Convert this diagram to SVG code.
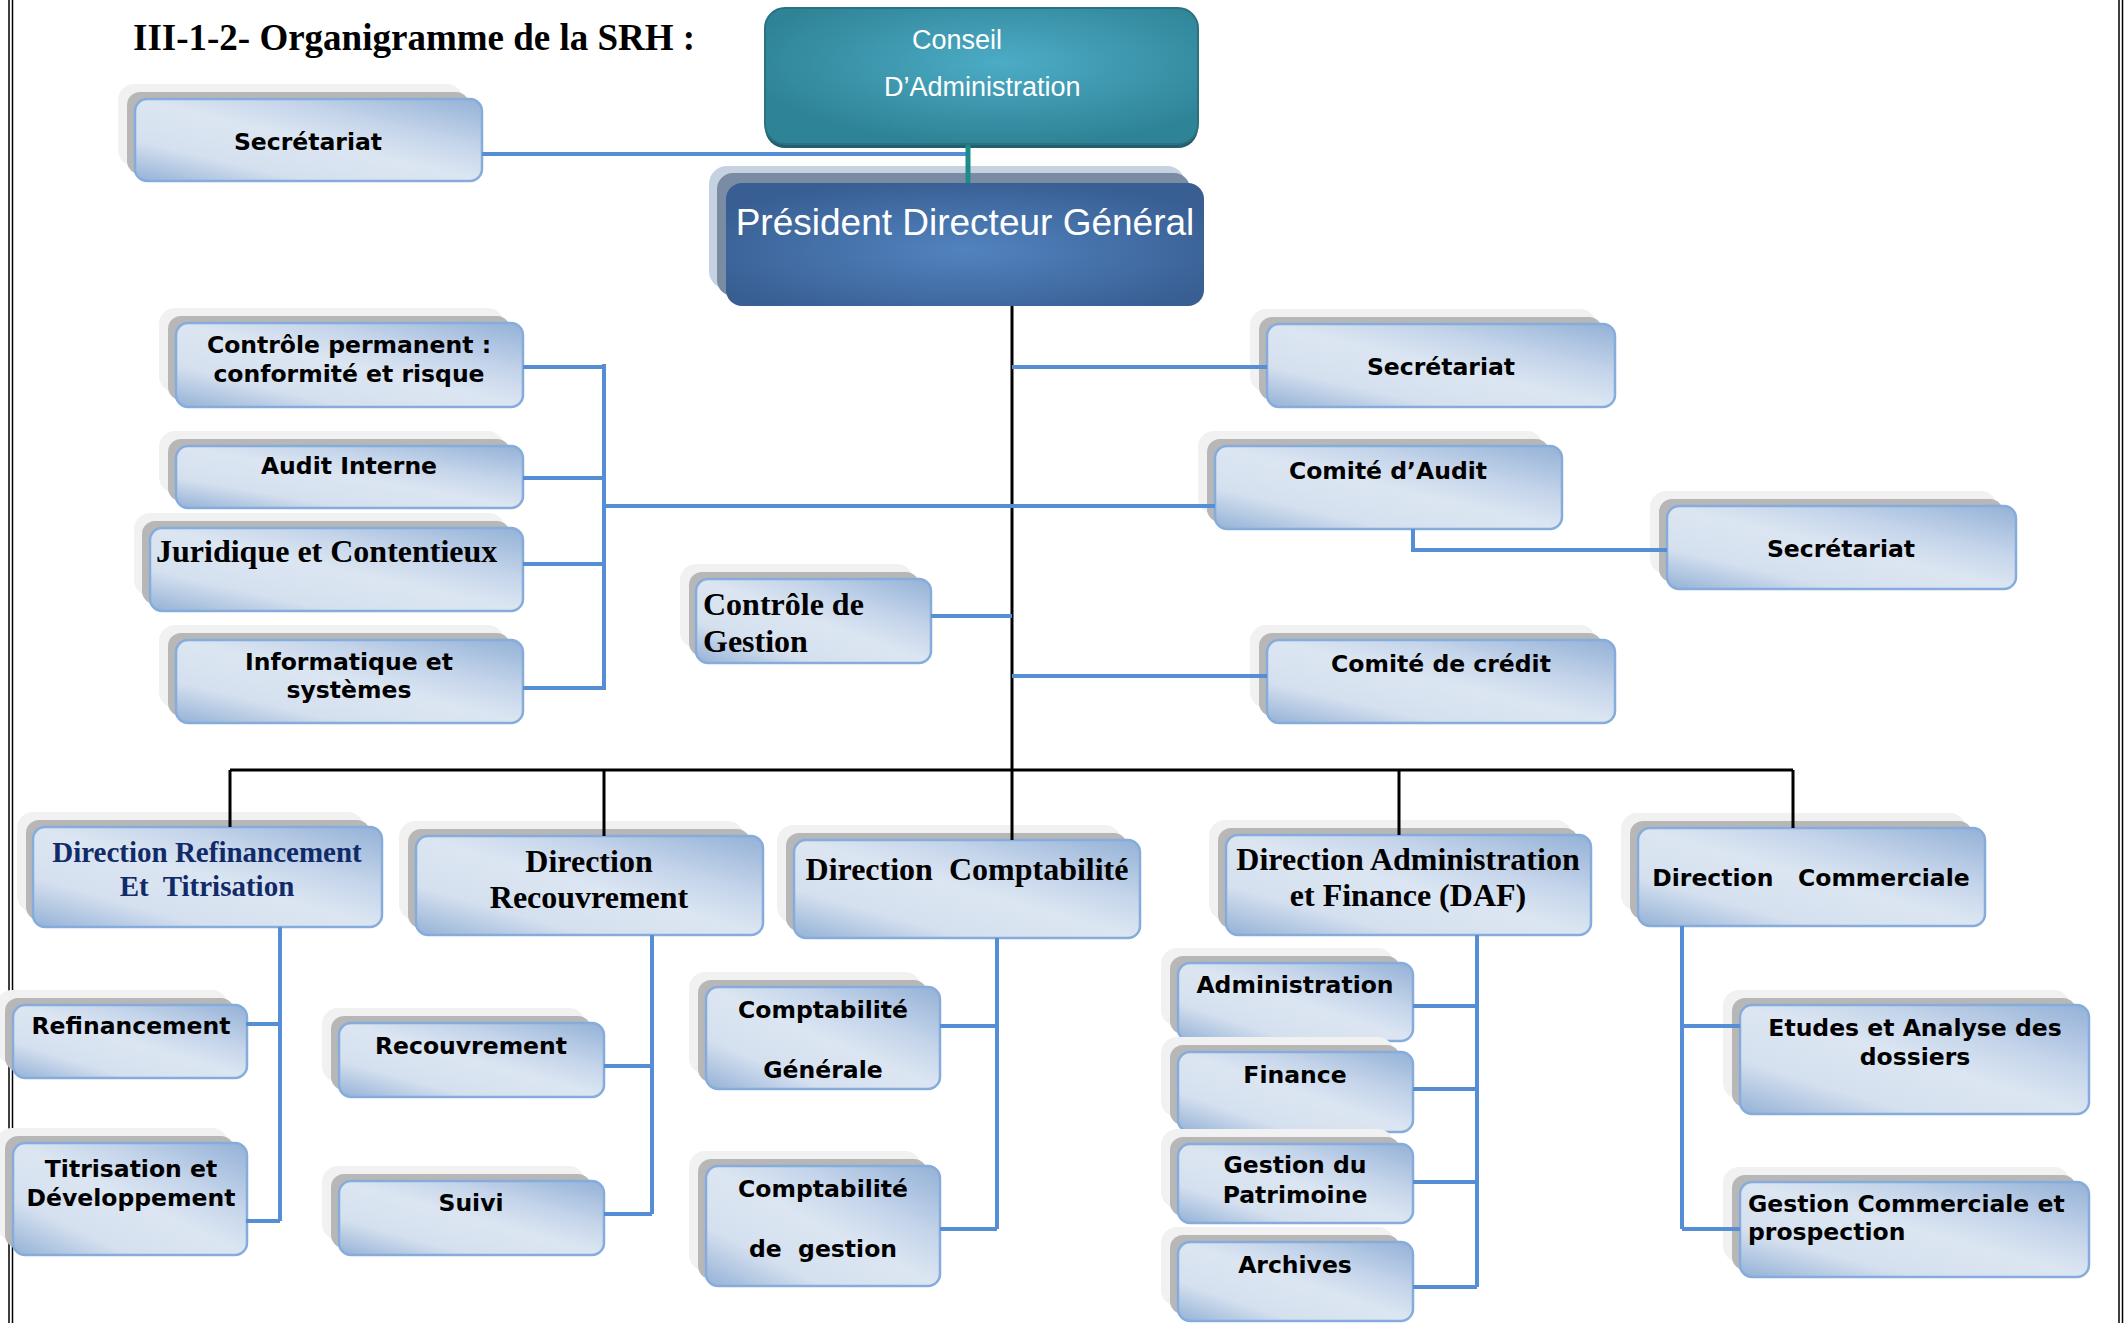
<svg xmlns="http://www.w3.org/2000/svg" width="2127" height="1323" viewBox="0 0 2127 1323">
<defs>
<linearGradient id="g" x1="1" y1="0" x2="0" y2="1">
<stop offset="0" stop-color="#93b1d6"/>
<stop offset="0.3" stop-color="#c4d4ea"/>
<stop offset="0.5" stop-color="#dce6f2"/>
<stop offset="0.75" stop-color="#d5e0ef"/>
<stop offset="1" stop-color="#93b1d6"/>
</linearGradient>
<radialGradient id="gp" cx="0.5" cy="0.55" r="0.6">
<stop offset="0" stop-color="#5283bf"/>
<stop offset="1" stop-color="#385e92"/>
</radialGradient>
<radialGradient id="gc" cx="0.55" cy="0.4" r="0.6">
<stop offset="0" stop-color="#4cacc6"/>
<stop offset="1" stop-color="#2f8396"/>
</radialGradient>
<style>
.l2{fill:#f1f1f1}
.l1{fill:#b7b7b7}
.bx{fill:url(#g);stroke:#86acdc;stroke-width:2.5}
.t{font-family:"DejaVu Sans",Verdana,sans-serif;font-weight:bold;font-size:23.5px;fill:#000;text-anchor:middle}
.ts{font-family:"Liberation Serif","Times New Roman",serif;font-weight:bold;font-size:32px;fill:#000;text-anchor:middle}
.st{text-anchor:start}
.nv{fill:#112b68;font-size:29px}
.tw{font-family:"Liberation Sans",Arial,sans-serif;fill:#fff}
.bl{stroke:#558ed5;stroke-width:4;fill:none}
.bk{stroke:#000;stroke-width:3;fill:none}
.fr{stroke:#000;stroke-width:1.5;fill:none}
</style>
</defs>
<rect width="2127" height="1323" fill="#fff"/>
<g id="frame">
<path class="fr" d="M9,0V1323M12.5,0V1323M2119,0V1323M2122.5,0V1323"/>
</g>
<text id="title" x="133" y="50" font-family="Liberation Serif,Times New Roman,serif" font-weight="bold" font-size="37" fill="#000">III-1-2- Organigramme de la SRH :</text>

<g id="sec1"><rect class="l2" x="118" y="84" width="345" height="82" rx="16"/><rect class="l1" x="127" y="92" width="342" height="82" rx="13"/><rect class="bx" x="135" y="99" width="347" height="82" rx="12"/><text class="t" x="308" y="150">Secrétariat</text></g>

<g id="conseil"><rect x="765" y="11" width="433" height="137" rx="20" fill="#22606e"/><rect x="765" y="8" width="433" height="136" rx="20" fill="url(#gc)" stroke="#2b7281" stroke-width="2"/><text class="tw" x="912" y="49" font-size="27">Conseil</text><text class="tw" x="884" y="96" font-size="27">D’Administration</text></g>

<g id="pdg"><rect x="709" y="166" width="476" height="123" rx="18" fill="#c6d2e1"/><rect x="717" y="173" width="473" height="123" rx="16" fill="#7a8ba4"/><rect x="726" y="183" width="478" height="123" rx="16" fill="url(#gp)"/><text class="tw" x="965" y="235" font-size="37" text-anchor="middle">Président Directeur Général</text></g>

<g id="ctrlperm"><rect class="l2" x="159" y="308" width="345" height="84" rx="16"/><rect class="l1" x="168" y="316" width="342" height="84" rx="13"/><rect class="bx" x="176" y="323" width="347" height="84" rx="12"/><text class="t" x="349" y="353">Contrôle permanent :</text><text class="t" x="349" y="382">conformité et risque</text></g>

<g id="audit"><rect class="l2" x="159" y="431" width="345" height="62" rx="16"/><rect class="l1" x="168" y="439" width="342" height="62" rx="13"/><rect class="bx" x="176" y="446" width="347" height="62" rx="12"/><text class="t" x="349" y="474">Audit Interne</text></g>

<g id="juridique"><rect class="l2" x="134" y="513" width="371" height="83" rx="16"/><rect class="l1" x="142" y="521" width="368" height="83" rx="13"/><rect class="bx" x="150" y="528" width="373" height="83" rx="12"/><text class="ts st" x="156" y="562">Juridique et Contentieux</text></g>

<g id="info"><rect class="l2" x="159" y="625" width="345" height="83" rx="16"/><rect class="l1" x="168" y="633" width="342" height="83" rx="13"/><rect class="bx" x="176" y="640" width="347" height="83" rx="12"/><text class="t" x="349" y="670">Informatique et</text><text class="t" x="349" y="698">systèmes</text></g>

<g id="ctrlgest"><rect class="l2" x="680" y="564" width="233" height="84" rx="16"/><rect class="l1" x="689" y="572" width="230" height="84" rx="13"/><rect class="bx" x="696" y="579" width="235" height="84" rx="12"/><text class="ts st" x="703" y="615">Contrôle de</text><text class="ts st" x="703" y="652">Gestion</text></g>

<g id="sec2"><rect class="l2" x="1250" y="309" width="346" height="83" rx="16"/><rect class="l1" x="1259" y="317" width="343" height="83" rx="13"/><rect class="bx" x="1267" y="324" width="348" height="83" rx="12"/><text class="t" x="1441" y="375">Secrétariat</text></g>

<g id="comaudit"><rect class="l2" x="1198" y="431" width="345" height="83" rx="16"/><rect class="l1" x="1207" y="439" width="342" height="83" rx="13"/><rect class="bx" x="1215" y="446" width="347" height="83" rx="12"/><text class="t" x="1388" y="479">Comité d’Audit</text></g>

<g id="sec3"><rect class="l2" x="1650" y="491" width="347" height="83" rx="16"/><rect class="l1" x="1659" y="499" width="344" height="83" rx="13"/><rect class="bx" x="1667" y="506" width="349" height="83" rx="12"/><text class="t" x="1841" y="557">Secrétariat</text></g>

<g id="comcredit"><rect class="l2" x="1250" y="625" width="346" height="83" rx="16"/><rect class="l1" x="1259" y="633" width="343" height="83" rx="13"/><rect class="bx" x="1267" y="640" width="348" height="83" rx="12"/><text class="t" x="1441" y="672">Comité de crédit</text></g>

<g id="dirrefi"><rect class="l2" x="17" y="812" width="347" height="100" rx="16"/><rect class="l1" x="26" y="820" width="344" height="100" rx="13"/><rect class="bx" x="33" y="827" width="349" height="100" rx="12"/><text class="ts nv" x="207" y="862">Direction Refinancement</text><text class="ts nv" x="207" y="896" xml:space="preserve">Et  Titrisation</text></g>

<g id="dirrecouv"><rect class="l2" x="399" y="821" width="345" height="99" rx="16"/><rect class="l1" x="408" y="829" width="342" height="99" rx="13"/><rect class="bx" x="416" y="836" width="347" height="99" rx="12"/><text class="ts" x="589" y="872">Direction</text><text class="ts" x="589" y="908">Recouvrement</text></g>

<g id="dircompta"><rect class="l2" x="777" y="825" width="344" height="98" rx="16"/><rect class="l1" x="786" y="833" width="341" height="98" rx="13"/><rect class="bx" x="794" y="840" width="346" height="98" rx="12"/><text class="ts" x="967" y="880" xml:space="preserve">Direction  Comptabilité</text></g>

<g id="refin"><rect class="l2" x="-4" y="990" width="232" height="73" rx="16"/><rect class="l1" x="5" y="998" width="229" height="73" rx="13"/><rect class="bx" x="13" y="1005" width="234" height="73" rx="12"/><text class="t" x="131" y="1034">Refinancement</text></g>

<g id="titris"><rect class="l2" x="-4" y="1128" width="232" height="112" rx="16"/><rect class="l1" x="5" y="1136" width="229" height="112" rx="13"/><rect class="bx" x="13" y="1143" width="234" height="112" rx="12"/><text class="t" x="131" y="1177">Titrisation et</text><text class="t" x="131" y="1206">Développement</text></g>

<g id="recouv"><rect class="l2" x="322" y="1008" width="263" height="74" rx="16"/><rect class="l1" x="331" y="1016" width="260" height="74" rx="13"/><rect class="bx" x="339" y="1023" width="265" height="74" rx="12"/><text class="t" x="471" y="1054">Recouvrement</text></g>

<g id="suivi"><rect class="l2" x="322" y="1166" width="263" height="74" rx="16"/><rect class="l1" x="331" y="1174" width="260" height="74" rx="13"/><rect class="bx" x="339" y="1181" width="265" height="74" rx="12"/><text class="t" x="471" y="1211">Suivi</text></g>

<g id="cgen"><rect class="l2" x="689" y="972" width="232" height="102" rx="16"/><rect class="l1" x="698" y="980" width="229" height="102" rx="13"/><rect class="bx" x="706" y="987" width="234" height="102" rx="12"/><text class="t" x="823" y="1018">Comptabilité</text><text class="t" x="823" y="1078">Générale</text></g>

<g id="cges"><rect class="l2" x="689" y="1151" width="232" height="120" rx="16"/><rect class="l1" x="698" y="1159" width="229" height="120" rx="13"/><rect class="bx" x="706" y="1166" width="234" height="120" rx="12"/><text class="t" x="823" y="1197">Comptabilité</text><text class="t" x="823" y="1257" xml:space="preserve">de  gestion</text></g>

<g id="daf"><rect class="l2" x="1209" y="820" width="363" height="100" rx="16"/><rect class="l1" x="1218" y="828" width="360" height="100" rx="13"/><rect class="bx" x="1226" y="835" width="365" height="100" rx="12"/><text class="ts" x="1408" y="870">Direction Administration</text><text class="ts" x="1408" y="906">et Finance (DAF)</text></g>

<g id="dircomm"><rect class="l2" x="1621" y="813" width="345" height="98" rx="16"/><rect class="l1" x="1630" y="821" width="342" height="98" rx="13"/><rect class="bx" x="1638" y="828" width="347" height="98" rx="12"/><text class="t" x="1811" y="886" xml:space="preserve">Direction   Commerciale</text></g>

<g id="admin"><rect class="l2" x="1161" y="948" width="233" height="78" rx="16"/><rect class="l1" x="1170" y="956" width="230" height="78" rx="13"/><rect class="bx" x="1178" y="963" width="235" height="78" rx="12"/><text class="t" x="1295" y="993">Administration</text></g>

<g id="finance"><rect class="l2" x="1161" y="1037" width="233" height="80" rx="16"/><rect class="l1" x="1170" y="1045" width="230" height="80" rx="13"/><rect class="bx" x="1178" y="1052" width="235" height="80" rx="12"/><text class="t" x="1295" y="1083">Finance</text></g>

<g id="patri"><rect class="l2" x="1161" y="1129" width="233" height="79" rx="16"/><rect class="l1" x="1170" y="1137" width="230" height="79" rx="13"/><rect class="bx" x="1178" y="1144" width="235" height="79" rx="12"/><text class="t" x="1295" y="1173">Gestion du</text><text class="t" x="1295" y="1203">Patrimoine</text></g>

<g id="archives"><rect class="l2" x="1161" y="1227" width="233" height="79" rx="16"/><rect class="l1" x="1170" y="1235" width="230" height="79" rx="13"/><rect class="bx" x="1178" y="1242" width="235" height="79" rx="12"/><text class="t" x="1295" y="1273">Archives</text></g>

<g id="etudes"><rect class="l2" x="1723" y="990" width="347" height="109" rx="16"/><rect class="l1" x="1732" y="998" width="344" height="109" rx="13"/><rect class="bx" x="1740" y="1005" width="349" height="109" rx="12"/><text class="t" x="1915" y="1036">Etudes et Analyse des</text><text class="t" x="1915" y="1065">dossiers</text></g>

<g id="gcomm"><rect class="l2" x="1723" y="1167" width="347" height="95" rx="16"/><rect class="l1" x="1732" y="1175" width="344" height="95" rx="13"/><rect class="bx" x="1740" y="1182" width="349" height="95" rx="12"/><text class="t st" x="1748" y="1212">Gestion Commerciale et</text><text class="t st" x="1748" y="1240">prospection</text></g>

<g id="connectors">
<path class="bl" d="M482,154H968"/>
<path d="M968,145V183" stroke="#1d8b89" stroke-width="5" fill="none"/>
<path class="bk" d="M1012,306V770M230,770H1793M230,770V827M604,770V836M1012,770V840M1399,770V835M1793,770V828"/>
<path class="bl" d="M523,367H604M523,478H604M523,564H604M523,688H604M604,364V690M604,506H1215"/>
<path class="bl" d="M1012,367H1267M931,616H1012M1012,676H1267M1413,529V550H1667"/>
<path class="bl" d="M280,927V1221M246,1024H280M246,1221H280"/>
<path class="bl" d="M652,935V1214M604,1066H652M604,1214H652"/>
<path class="bl" d="M997,938V1229M940,1026H997M940,1229H997"/>
<path class="bl" d="M1477,935V1287M1413,1006H1477M1413,1089H1477M1413,1182H1477M1413,1287H1477"/>
<path class="bl" d="M1682,926V1229M1682,1026H1740M1682,1229H1740"/>
</g>
</svg>
